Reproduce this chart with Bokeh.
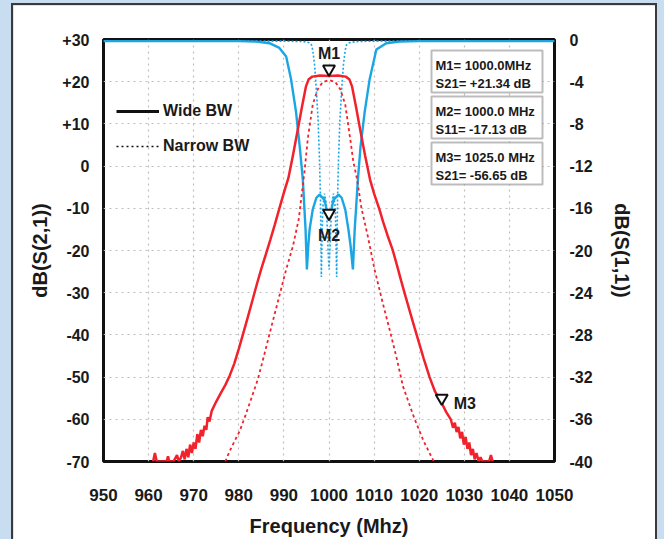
from bokeh.plotting import figure
from bokeh.layouts import column
from bokeh.models import (Range1d, LinearAxis, FixedTicker, Label, BoxAnnotation,
                          Legend, LegendItem)
from bokeh.embed import file_html
from bokeh.resources import INLINE

# ---------------- data ----------------
x_ticks = [950, 960, 970, 980, 990, 1000, 1010, 1020, 1030, 1040, 1050]
left_ticks = [30, 20, 10, 0, -10, -20, -30, -40, -50, -60, -70]
left_labels = ["+30", "+20", "+10", "0", "-10", "-20", "-30", "-40", "-50", "-60", "-70"]
right_ticks = [0, -4, -8, -12, -16, -20, -24, -28, -32, -36, -40]
right_labels = ["0", "-4", "-8", "-12", "-16", "-20", "-24", "-28", "-32", "-36", "-40"]

# Wide BW  S21 (left axis, dB)
wide_s21_f = [961.0, 961.4, 961.8, 963.0, 964.0, 964.3, 964.6, 965.5, 966.3, 966.7,
              967.2, 967.6, 968.0, 968.4, 968.8, 969.2, 969.6, 970.0, 970.4, 970.8,
              971.2, 971.6, 972.0, 972.4, 972.8, 973.1, 973.5, 974.0, 975.0, 976.0,
              977.0, 978.0, 979.0, 980.0, 981.0, 982.0, 983.0, 984.0, 985.0, 986.0,
              987.0, 988.0, 989.0, 990.0, 991.0, 992.0, 993.0, 994.0, 994.9, 995.5,
              996.3, 998.0, 1000.0, 1002.0, 1003.7, 1004.5, 1005.1, 1006.0, 1006.9, 1008.0,
              1009.1, 1010.0, 1011.2, 1012.0, 1013.0, 1014.1, 1015.2, 1016.0, 1017.0, 1018.0,
              1019.0, 1020.0, 1021.0, 1022.3, 1023.5, 1025.2, 1026.0, 1027.0, 1027.5, 1027.9,
              1028.3, 1028.7, 1029.1, 1029.5, 1029.9, 1030.3, 1030.7, 1031.1, 1031.5, 1031.9,
              1032.3, 1032.7, 1033.2, 1033.6, 1034.0, 1035.5, 1035.9, 1036.3]
wide_s21_db = [-70.0, -68.0, -70.0, -70.0, -70.0, -68.8, -70.0, -70.0, -68.5, -70.0,
               -69.0, -67.5, -69.5, -67.0, -69.0, -66.0, -68.0, -65.5, -67.0, -63.5,
               -65.5, -62.5, -64.0, -61.5, -62.5, -59.5, -60.5, -58.0, -55.8, -53.8,
               -51.9, -49.6, -46.8, -43.3, -39.6, -35.8, -31.9, -28.0, -24.3, -20.9,
               -17.4, -13.8, -10.0, -6.3, -2.8, 2.5, 8.2, 14.0, 18.9, 20.6,
               21.2, 21.45, 21.34, 21.45, 21.2, 20.6, 18.9, 14.0, 8.7, 2.5,
               -3.2, -6.5, -10.3, -13.2, -16.5, -19.8, -24.0, -27.2, -31.0, -34.7,
               -38.4, -42.0, -45.6, -50.0, -53.4, -56.6, -58.3, -60.0, -62.0, -60.8,
               -63.0, -61.8, -64.5, -63.0, -66.0, -64.2, -67.0, -65.5, -68.5, -67.0,
               -69.5, -68.0, -70.0, -69.0, -70.0, -70.0, -68.5, -70.0]

# Narrow BW S21 (left axis, dB)
narrow_s21_f = [977.0, 978.0, 979.0, 980.2, 981.5, 982.7, 984.2, 985.5, 987.0, 988.5,
                990.5, 992.0, 993.3, 994.6, 995.3, 996.4, 997.5, 998.6, 1000.0, 1001.4,
                1002.5, 1003.6, 1004.7, 1005.4, 1006.2, 1007.2, 1008.6, 1010.1, 1012.0, 1013.5,
                1015.0, 1016.4, 1019.0, 1021.0, 1023.0, 1023.3]
narrow_s21_db = [-70.0, -67.5, -65.3, -62.8, -59.0, -55.3, -50.6, -45.3, -39.0, -32.8,
                 -24.5, -19.0, -12.5, -1.0, 6.5, 14.6, 18.2, 19.9, 20.4, 19.9,
                 18.2, 14.6, 6.5, 1.0, -3.0, -10.0, -16.6, -24.5, -32.8, -39.0,
                 -45.5, -52.2, -60.0, -65.2, -69.5, -70.0]

# Wide BW S11 (right axis, dB)
wide_s11_f = [950.0, 980.0, 983.9, 986.8, 989.0, 990.5, 991.6, 992.7, 993.5, 994.2,
              994.8, 995.1, 995.4, 995.7, 996.4, 997.2, 997.9, 999.0, 999.7, 1000.0,
              1000.3, 1001.0, 1002.1, 1002.8, 1003.6, 1004.3, 1004.8, 1005.3, 1005.7, 1006.4,
              1007.0, 1007.9, 1009.0, 1010.5, 1012.7, 1015.6, 1020.0, 1050.0]
wide_s11_db = [-0.15, -0.15, -0.2, -0.35, -0.8, -1.6, -3.8, -6.9, -10.1, -13.3,
               -18.0, -21.8, -19.6, -18.0, -16.1, -15.0, -14.7, -15.2, -16.6, -17.13,
               -16.6, -15.2, -14.7, -15.0, -16.1, -18.0, -19.6, -21.8, -18.0, -13.3,
               -10.1, -6.9, -3.8, -0.95, -0.35, -0.2, -0.15, -0.15]

# Narrow BW S11 (right axis, dB)
narrow_s11_f = [950.0, 990.0, 994.5, 995.6, 996.1, 996.4, 996.8, 997.2, 997.6, 997.9,
                998.1, 998.3, 998.6, 999.0, 999.4, 999.8, 1000.0, 1000.2, 1000.6, 1001.0,
                1001.4, 1001.7, 1001.9, 1002.1, 1002.4, 1002.8, 1003.2, 1003.6, 1003.9, 1004.5,
                1006.0, 1010.0, 1050.0]
narrow_s11_db = [-0.15, -0.15, -0.2, -0.3, -0.5, -1.0, -2.4, -4.8, -7.8, -11.5,
                 -15.0, -22.5, -16.0, -14.6, -15.5, -20.0, -21.8, -20.0, -15.5, -14.6,
                 -16.0, -22.5, -15.0, -11.5, -7.8, -4.8, -2.4, -1.0, -0.5, -0.3,
                 -0.2, -0.15, -0.15]

# markers
m_names = ["M1", "M2", "M3"]
m_freq = [1000.0, 1000.0, 1025.0]
m_val = [21.34, -17.13, -56.65]
box_lines = [("M1= 1000.0MHz", "S21= +21.34 dB"),
             ("M2= 1000.0 MHz", "S11= -17.13 dB"),
             ("M3= 1025.0 MHz", "S21= -56.65 dB")]

RED = "#f2222c"
BLUE = "#1aa6e4"
FONT = "Liberation Sans"

# --------------- layout helpers (pixel -> data) ---------------
FL, FR, FT, FB = 104, 555, 40, 462


def fx(px):
    return 950 + (px - FL) * 100.0 / (FR - FL)


def fy(py):
    return 30 - (py - FT) * 100.0 / (FB - FT)


fig = figure(width=646, height=536, output_backend="svg", toolbar_location=None,
             x_range=Range1d(950, 1050), y_range=Range1d(-70, 30),
             min_border_left=90, min_border_right=105,
             min_border_top=34, min_border_bottom=80,
             styles={"border": "2px solid #3a3a3a", "border-bottom": "none"})
fig.extra_y_ranges = {"s11": Range1d(-40, 0)}
fig.background_fill_color = "white"
fig.border_fill_color = "white"
fig.outline_line_color = "#111111"
fig.outline_line_width = 3

# axes
fig.xaxis.ticker = FixedTicker(ticks=x_ticks)
fig.yaxis.ticker = FixedTicker(ticks=left_ticks)
fig.yaxis.major_label_overrides = {t: l for t, l in zip(left_ticks, left_labels)}
rax = LinearAxis(y_range_name="s11", ticker=FixedTicker(ticks=right_ticks))
rax.major_label_overrides = {t: l for t, l in zip(right_ticks, right_labels)}
fig.add_layout(rax, "right")

fig.xaxis.axis_label = "Frequency (Mhz)"
fig.yaxis.axis_label = "dB(S(2,1))"
rax.axis_label = "dB(S(1,1))"

for ax in [fig.xaxis[0], fig.yaxis[0], rax]:
    ax.axis_line_color = None
    ax.major_tick_line_color = None
    ax.minor_tick_line_color = None
    ax.major_label_text_font = FONT
    ax.major_label_text_font_style = "bold"
    ax.major_label_text_font_size = "16px"
    ax.major_label_text_color = "#1a1a1a"
    ax.axis_label_text_font = FONT
    ax.axis_label_text_font_style = "bold"
    ax.axis_label_text_font_size = "20px"
    ax.axis_label_text_color = "#1a1a1a"

fig.xaxis.major_label_text_font_size = "17px"
fig.xaxis.axis_label_text_font_size = "20px"
fig.xaxis.major_label_standoff = 21
fig.xaxis.axis_label_standoff = 11
fig.yaxis.major_label_standoff = 8
fig.yaxis.axis_label_standoff = 8
rax.major_label_standoff = 9
rax.axis_label_standoff = 15

# grids
fig.xgrid.ticker = FixedTicker(ticks=x_ticks)
fig.ygrid.ticker = FixedTicker(ticks=left_ticks)
for g in [fig.xgrid[0], fig.ygrid[0]]:
    g.grid_line_color = "#bdbdbd"
    g.grid_line_dash = "2 4"
    g.grid_line_width = 1.2

# curves
fig.line(narrow_s11_f, narrow_s11_db, y_range_name="s11", line_color=BLUE,
         line_width=1.6, line_dash="2 2")
fig.line(wide_s11_f, wide_s11_db, y_range_name="s11", line_color=BLUE, line_width=2.4)
fig.line(narrow_s21_f, narrow_s21_db, line_color=RED, line_width=1.8, line_dash="3 3")
fig.line(wide_s21_f, wide_s21_db, line_color=RED, line_width=2.5)

# marker triangles (tip at the marker point)
tri_off_l = 7 * 100.0 / (FB - FT)
tri_off_r = 7 * 40.0 / (FB - FT)
fig.scatter([m_freq[0], m_freq[2]], [m_val[0] + tri_off_l, m_val[2] + tri_off_l],
            marker="inverted_triangle", size=12, fill_color="white",
            line_color="#111111", line_width=2)
fig.scatter([m_freq[1]], [m_val[1] + tri_off_r], y_range_name="s11",
            marker="inverted_triangle", size=12, fill_color="white",
            line_color="#111111", line_width=2)

lab_kw = dict(text_font=FONT, text_font_style="bold", text_font_size="16px",
              text_color="#1a1a1a")
fig.add_layout(Label(x=m_freq[0], y=m_val[0], y_offset=23, text=m_names[0],
                     text_align="center", text_baseline="middle", **lab_kw))
fig.add_layout(Label(x=m_freq[1], y=m_val[1], y_offset=-15, text=m_names[1],
                     y_range_name="s11", text_align="center", text_baseline="middle",
                     **lab_kw))
fig.add_layout(Label(x=m_freq[2], y=m_val[2], x_offset=12, y_offset=2, text=m_names[2],
                     text_align="left", text_baseline="middle", **lab_kw))

# marker readout boxes
box_tops = [51, 97, 143]
for top, (l1, l2) in zip(box_tops, box_lines):
    fig.add_layout(BoxAnnotation(left=fx(432), right=fx(543), top=fy(top),
                                 bottom=fy(top + 42), fill_color="white", fill_alpha=1.0,
                                 line_color="#222222", line_width=2))
    for dy, txt in [(14.5, l1), (32.5, l2)]:
        fig.add_layout(Label(x=fx(436), y=fy(top + dy), text=txt, text_align="left",
                             text_baseline="middle", text_font=FONT,
                             text_font_style="bold", text_font_size="13px",
                             text_color="#1a1a1a"))

# legend (black samples, renderers hidden)
r_w = fig.line(wide_s21_f, wide_s21_db, line_color="#111111", line_width=3, visible=False)
r_n = fig.line(narrow_s21_f, narrow_s21_db, line_color="#111111", line_width=1.5,
               line_dash="2 3", visible=False)
leg = Legend(items=[LegendItem(label="Wide BW", renderers=[r_w]),
                    LegendItem(label="Narrow BW", renderers=[r_n])],
             location=(13, 305), border_line_color=None, background_fill_alpha=0,
             inactive_fill_alpha=0, padding=0, margin=0, spacing=15, glyph_width=43,
             glyph_height=20, label_height=20, label_standoff=4, label_text_font=FONT,
             label_text_font_style="bold", label_text_font_size="16px",
             label_text_color="#1a1a1a")
fig.add_layout(leg)

p = column(fig, styles={"background-color": "#c9ddf1",
                        "padding": "3px 7px 0px 11px"})

open("out.html", "w").write(file_html(p, INLINE))
